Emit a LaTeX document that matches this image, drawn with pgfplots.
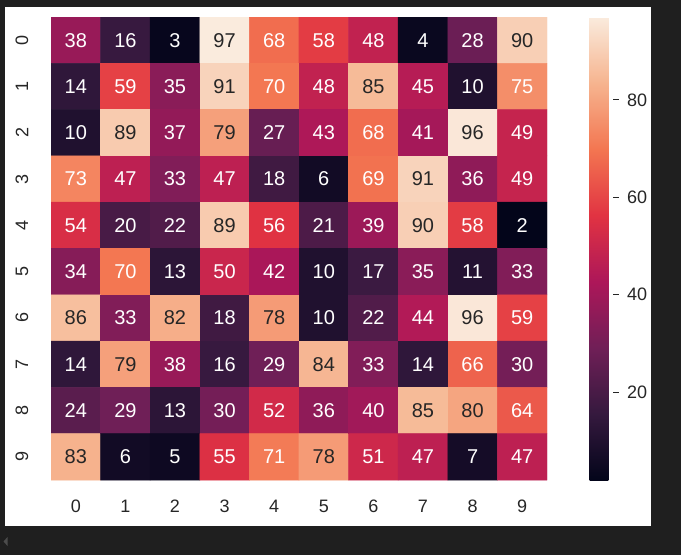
\documentclass[border=0pt]{standalone}
\usepackage{pgfplots}
\usepackage{pgfplotstable}
\pgfplotsset{compat=1.18}
\usepackage{fontspec}
\setmainfont{Liberation Sans}
\definecolor{textdark}{HTML}{262626}
\definecolor{bgdark}{HTML}{1F1F1F}
\pgfplotsset{
  /pgf/number format/assume math mode=true,
  colormap={rocket}{
    rgb255(0)=(3,5,26)
    rgb255(1)=(53,25,62)
    rgb255(2)=(112,31,87)
    rgb255(3)=(173,23,89)
    rgb255(4)=(225,51,66)
    rgb255(5)=(243,118,81)
    rgb255(6)=(246,180,143)
    rgb255(7)=(250,235,221)
  }
}
\pgfplotstableread[row sep=\\]{
x y v\\
0 0 38\\ 1 0 16\\ 2 0 3\\ 3 0 97\\ 4 0 68\\ 5 0 58\\ 6 0 48\\ 7 0 4\\ 8 0 28\\ 9 0 90\\
0 1 14\\ 1 1 59\\ 2 1 35\\ 3 1 91\\ 4 1 70\\ 5 1 48\\ 6 1 85\\ 7 1 45\\ 8 1 10\\ 9 1 75\\
0 2 10\\ 1 2 89\\ 2 2 37\\ 3 2 79\\ 4 2 27\\ 5 2 43\\ 6 2 68\\ 7 2 41\\ 8 2 96\\ 9 2 49\\
0 3 73\\ 1 3 47\\ 2 3 33\\ 3 3 47\\ 4 3 18\\ 5 3 6\\ 6 3 69\\ 7 3 91\\ 8 3 36\\ 9 3 49\\
0 4 54\\ 1 4 20\\ 2 4 22\\ 3 4 89\\ 4 4 56\\ 5 4 21\\ 6 4 39\\ 7 4 90\\ 8 4 58\\ 9 4 2\\
0 5 34\\ 1 5 70\\ 2 5 13\\ 3 5 50\\ 4 5 42\\ 5 5 10\\ 6 5 17\\ 7 5 35\\ 8 5 11\\ 9 5 33\\
0 6 86\\ 1 6 33\\ 2 6 82\\ 3 6 18\\ 4 6 78\\ 5 6 10\\ 6 6 22\\ 7 6 44\\ 8 6 96\\ 9 6 59\\
0 7 14\\ 1 7 79\\ 2 7 38\\ 3 7 16\\ 4 7 29\\ 5 7 84\\ 6 7 33\\ 7 7 14\\ 8 7 66\\ 9 7 30\\
0 8 24\\ 1 8 29\\ 2 8 13\\ 3 8 30\\ 4 8 52\\ 5 8 36\\ 6 8 40\\ 7 8 85\\ 8 8 80\\ 9 8 64\\
0 9 83\\ 1 9 6\\ 2 9 5\\ 3 9 55\\ 4 9 71\\ 5 9 78\\ 6 9 51\\ 7 9 47\\ 8 9 7\\ 9 9 47\\
}\heat
\begin{document}
\begin{tikzpicture}
\fill[bgdark] (-38.25pt,-56.25pt) rectangle (472.5pt,360pt);
\fill[white] (-34.5pt,-34.5pt) rectangle (450pt,354.75pt);
\fill[black!70] (-35.6pt,-46.1pt) -- (-32.6pt,-42.75pt) -- (-32.6pt,-49.5pt) -- cycle;
\begin{axis}[
  at={(0pt,0pt)}, anchor=south west,
  scale only axis, width=372pt, height=347.25pt,
  xmin=-0.5, xmax=9.5, ymin=-0.5, ymax=9.5,
  y dir=reverse,
  axis line style={draw=none},
  major tick length=0pt,
  xtick={0,...,9}, ytick={0,...,9},
  ticklabel style={font=\fontsize{13.5}{16}\selectfont, text=textdark},
  xticklabel style={anchor=center, yshift=-19.5pt},
  yticklabel style={anchor=center, rotate=90, yshift=21.75pt},
  colormap name=rocket,
  point meta min=2, point meta max=97,
  colorbar right,
  colorbar style={
    at={(parent axis.right of north east)}, anchor=north west,
    xshift=23.25pt,
    scale only axis, width=17.25pt, height=347.25pt,
    ytick={20,40,60,80},
    ytick pos=right, tick align=outside,
    major tick length=4.5pt,
    tick style={draw=textdark, line width=0.9pt},
    axis line style={draw=none},
    yticklabel style={font=\fontsize{13.5}{16}\selectfont, text=textdark, xshift=3pt},
  },
]
\addplot[matrix plot*, mesh/cols=10, point meta=explicit] table[x=x, y=y, meta=v]{\heat};
\addplot[only marks, mark=none, point meta=explicit symbolic,
  visualization depends on={\thisrow{v} \as \val},
  nodes near coords={\pgfmathparse{\val<77}\ifdim\pgfmathresult pt>0.5pt\color{white}\else\color{textdark}\fi\pgfplotspointmeta},
  nodes near coords style={anchor=center, font=\fontsize{15}{18}\selectfont},
] table[x=x, y=y, meta=v]{\heat};
\end{axis}
\pgfresetboundingbox
\useasboundingbox (-38.25pt,-56.25pt) rectangle (472.5pt,360pt);
\end{tikzpicture}
\end{document}
